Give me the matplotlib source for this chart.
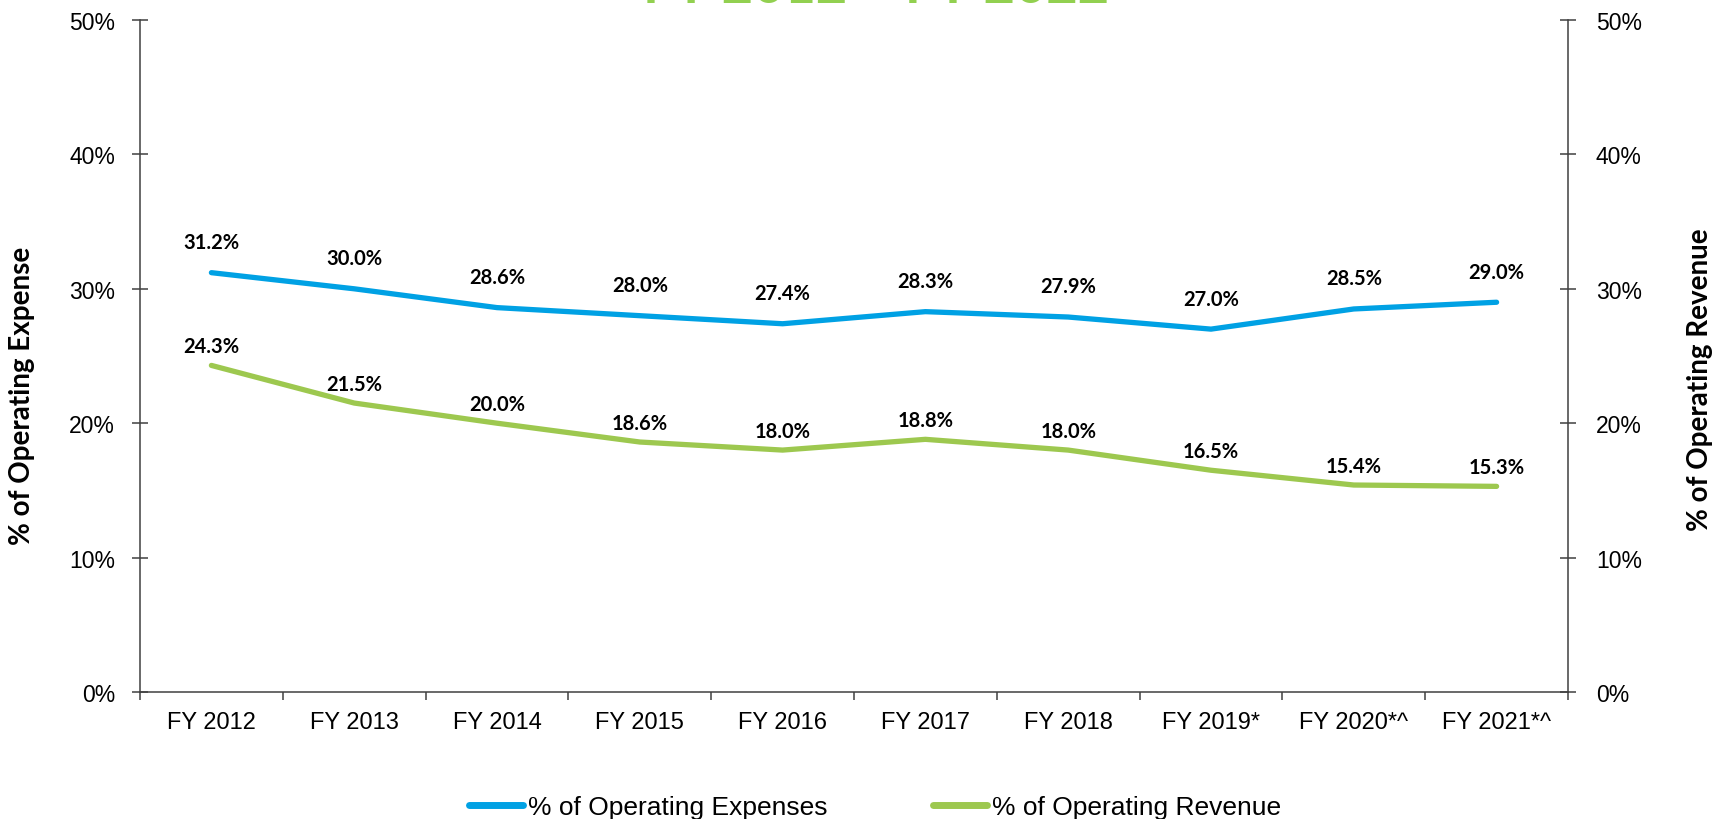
import matplotlib
matplotlib.use("Agg")
import matplotlib.pyplot as plt
from matplotlib.ticker import FixedLocator, PercentFormatter

categories = ["FY 2012", "FY 2013", "FY 2014", "FY 2015", "FY 2016",
              "FY 2017", "FY 2018", "FY 2019*", "FY 2020*^", "FY 2021*^"]
pct_expenses = [31.2, 30.0, 28.6, 28.0, 27.4, 28.3, 27.9, 27.0, 28.5, 29.0]
pct_revenue = [24.3, 21.5, 20.0, 18.6, 18.0, 18.8, 18.0, 16.5, 15.4, 15.3]
y_ticks = [0, 10, 20, 30, 40, 50]
series_names = ["% of Operating Expenses", "% of Operating Revenue"]
title_text = "FY 2012 \u2013 FY 2022"

BLUE = "#00A1E4"
GREEN = "#9DC84F"
AXC = "#404040"

W, H = 1716, 820
fig = plt.figure(figsize=(W / 100, H / 100), dpi=100)
ax = fig.add_axes([140 / W, 1 - 693 / H, (1568 - 140) / W, (693 - 21) / H])
ax2 = ax.twinx()

x = list(range(len(categories)))
l1, = ax.plot(x, pct_expenses, color=BLUE, lw=3.8, solid_joinstyle="round",
              solid_capstyle="round", zorder=3)
l2, = ax2.plot(x, pct_revenue, color=GREEN, lw=3.8, solid_joinstyle="round",
               solid_capstyle="round", zorder=3)

lab_font = dict(family=["Lato", "DejaVu Sans"], fontweight="bold", fontsize=14.5, color="black")
for xi, v in zip(x, pct_expenses):
    ax.annotate(f"{v:.1f}%", (xi, v), xytext=(0, 22), textcoords="offset points",
                ha="center", va="center", **lab_font)
for xi, v in zip(x, pct_revenue):
    ax2.annotate(f"{v:.1f}%", (xi, v), xytext=(0, 14), textcoords="offset points",
                 ha="center", va="center", **lab_font)

for a in (ax, ax2):
    a.set_ylim(0, 50)
    a.set_xlim(-0.5, len(categories) - 0.5)
    a.yaxis.set_major_locator(FixedLocator(y_ticks))
    a.yaxis.set_major_formatter(PercentFormatter(decimals=0))
    for s in a.spines.values():
        s.set_color(AXC)
        s.set_linewidth(1.1)
    a.spines["top"].set_visible(False)

ax.spines["right"].set_visible(False)
ax2.spines["left"].set_visible(False)
ax2.spines["bottom"].set_visible(False)

ax.tick_params(axis="y", direction="inout", length=12, width=1.1, color=AXC,
               labelsize=16.5, pad=12, labelcolor="black")
ax2.tick_params(axis="y", direction="inout", length=12, width=1.1, color=AXC,
                labelsize=16.5, pad=14, labelcolor="black")
for lbl in ax.get_yticklabels() + ax2.get_yticklabels():
    lbl.set_fontfamily(["Liberation Sans", "DejaVu Sans"])

ax.set_xticks(x)
ax.set_xticklabels(categories, fontsize=17, fontfamily=["Liberation Sans", "DejaVu Sans"])
ax.set_xticks([i - 0.5 for i in range(len(categories) + 1)], minor=True)
ax.tick_params(axis="x", which="major", length=0, pad=14, labelcolor="black")
ax.tick_params(axis="x", which="minor", direction="out", length=6, width=1.1, color=AXC)

ax_lab = dict(family=["Lato", "DejaVu Sans"], fontweight="bold", fontsize=20,
              color="black", rotation=90, ha="center", va="center")
fig.text(22 / W, 1 - 396 / H, "% of Operating Expense", **ax_lab)
fig.text(1700 / W, 1 - 380 / H, "% of Operating Revenue", **ax_lab)

fig.text(876 / W, 1 - 3 / H, title_text, color="#92D050", fontsize=39,
         fontweight="bold", family=["Lato", "DejaVu Sans"], ha="center", va="baseline")

leg = fig.legend([l1, l2], series_names, loc="center", bbox_to_anchor=(875 / W, 1 - 808 / H),
                 ncol=2, frameon=False, handlelength=2.05, handletextpad=0.2,
                 columnspacing=4.0, prop={"family": ["Liberation Sans", "DejaVu Sans"], "size": 19})
for h in leg.legend_handles:
    h.set_linewidth(5)

fig.savefig("out.png", dpi=100)
